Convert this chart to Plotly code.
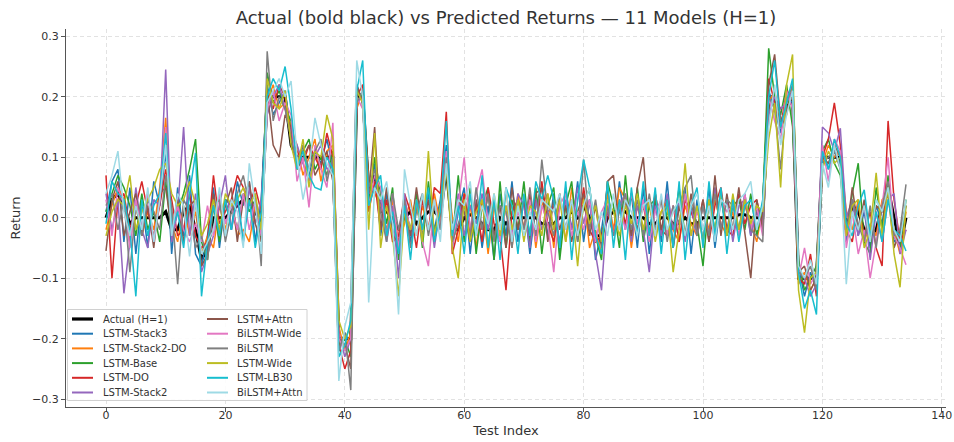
import plotly.graph_objects as go

test_index = list(range(135))

actual = [
    0, .03, .04, .02, -.01, 0, 0, 0, 0, 0, .01, -.02, -.02, .01, .02,
    -.02, -.07, -.05, 0, 0, 0, .01, .02, .03, .03, .01, -.01, .2, .2, .2,
    .2, .12, .1, .1, .1, .1, .1, .1, .1, -.2, -.2, -.2, .2, .2, .05,
    .07, .01, .01, 0, -.02, 0, .01, -.01, 0, .01, .01, 0, .08, -.02, -.02,
    0, .005, 0, -.01, -.02, -.02, 0, -.01, 0, 0, 0, 0, 0, -.01, -.01,
    -.01, 0, 0, .01, 0, .02, 0, -.03, -.03, 0, .01, .01, .01, 0, 0,
    0, -.01, -.01, 0, 0, -.01, -.01, 0, -.01, -.01, 0, 0, 0, 0, 0,
    0, .005, .005, 0, 0, 0, .2, .2, .15, .18, .2, -.1, -.1, -.1, -.1,
    .1, .1, .1, .1, -.02, .02, .01, -.02, -.03, -.02, .02, .05, 0, -.05, 0,
]

lstm_stack3 = [
    .01, .06, .08, -.04, .05, -.06, .03, -.05, .06, .02, .11, -.06, .05, -.03, .07,
    -.06, -.08, -.03, .05, -.05, .03, -.02, .06, .02, .06, -.04, .03, .22, .17, .19,
    .21, .14, .08, .12, .07, .11, .09, .13, .08, -.22, -.19, -.21, .22, .19, .03,
    .09, -.03, .04, -.02, -.06, .03, -.04, .02, -.03, .04, -.02, .03, .12, -.05, .01,
    .05, -.06, .03, -.05, .02, -.07, .04, -.03, .06, -.04, .03, -.06, .02, .05, -.03,
    .04, -.06, .05, -.02, .06, -.04, .03, -.07, -.02, .05, -.03, .06, -.02, .04, -.05,
    .05, -.06, .03, -.04, .06, -.05, .02, .05, -.06, .03, -.04, .05, -.05, .03, -.02,
    .03, -.02, .04, -.03, .02, -.01, .21, .18, .14, .2, .19, -.08, -.13, -.09, -.12,
    .12, .08, .11, .09, -.04, .03, -.03, .01, -.05, .02, -.01, .06, -.04, -.03, .02,
]

lstm_stack2_do = [
    -.02, .02, .05, .03, -.04, .02, -.03, .01, -.02, .05, .165, -.01, -.04, .02, -.03,
    .01, -.06, -.03, -.05, .02, -.02, .03, -.03, -.02, -.04, .02, -.03, .19, .22, .18,
    .19, .15, .12, .07, .1, .13, .06, .11, .12, -.18, -.22, -.19, .18, .21, .06,
    .04, .02, -.02, .03, -.04, -.01, .03, -.03, .02, -.02, .04, -.01, .1, 0, -.04,
    .04, .02, -.05, .03, -.06, .02, -.04, .05, -.05, .04, -.02, .04, -.05, .02, .04,
    -.05, .04, -.04, .05, -.02, .04, -.05, -.02, -.06, .04, -.02, .05, .03, -.05, .02,
    -.02, .02, -.03, .01, .03, -.02, -.04, .02, -.01, -.03, .02, -.02, .03, -.01, -.03,
    .01, -.03, .02, -.01, -.04, .02, .19, .21, .16, .17, .22, -.11, -.09, -.12, -.1,
    .09, .12, .1, .11, .01, -.02, .03, -.04, -.01, -.03, .03, .04, -.02, -.06, .01,
]

lstm_base = [
    .01, .04, .07, .05, .02, -.03, .04, -.02, .01, -.04, .06, -.03, .01, .04, .08,
    .13, -.04, -.07, .02, -.04, .03, .02, -.02, .04, .01, .03, -.04, .24, .19, .21,
    .18, .16, .09, .11, .13, .08, .1, .07, .11, -.21, -.2, -.23, .21, .2, .02,
    .1, .04, -.01, .05, -.07, .02, -.02, .04, -.05, .06, -.03, .02, .1, -.04, .07,
    -.04, .05, -.06, .02, .05, -.07, .06, -.05, .03, -.02, .06, -.04, .05, -.06, .02,
    .05, -.07, .02, .06, -.04, .02, .05, -.03, -.07, .06, .02, -.05, .07, -.03, .05,
    -.04, .02, .03, -.03, .01, -.02, .05, -.03, .02, -.01, -.08, .03, -.02, .04, -.03,
    .02, .03, -.02, .04, -.03, .02, .28, .2, .17, .22, .15, -.07, -.12, -.1, -.08,
    .11, .13, .09, .07, -.03, .04, .09, -.04, -.06, .05, -.02, .07, -.03, -.05, .03,
]

lstm_do = [
    .07, -.1, .03, .04, -.02, .02, .06, .01, -.03, .02, .08, .03, -.03, -.02, .04,
    -.03, -.05, -.04, .07, -.01, .01, .03, .07, .05, .02, .05, .01, .2, .18, .22,
    .2, .13, .11, .09, .12, .1, .08, .14, .1, -.21, -.25, -.22, .2, .22, .01,
    .06, -.02, .03, -.04, -.03, .04, .01, -.05, .03, -.02, .05, .04, .175, -.06, -.02,
    .04, -.03, .02, -.04, .05, -.01, -.03, -.12, .01, .03, -.02, .04, -.03, .06, -.01,
    -.04, .03, -.02, .02, -.03, .05, -.02, -.04, -.03, .01, -.03, .03, -.01, .04, -.02,
    .02, -.03, .04, -.02, -.03, .02, -.04, .03, .01, -.02, .03, -.04, .02, .05, -.02,
    -.03, .04, -.01, .02, .03, -.02, .23, .19, .15, .21, .2, -.1, -.11, -.06, -.13,
    .1, .13, .19, .12, -.02, -.04, .02, -.03, .01, -.05, -.08, .16, .03, -.04, -.02,
]

lstm_stack2 = [
    .04, -.02, .03, -.125, -.04, .05, -.02, -.05, .03, .02, .245, -.04, .01, .15, -.03,
    .04, -.09, -.06, -.03, .02, .07, -.02, .03, -.04, .05, -.01, .03, .17, .2, .22,
    .18, .14, .12, .09, .06, .1, .12, .08, .09, -.19, -.23, -.2, .19, .2, .04,
    .05, .03, -.04, .02, -.1, .04, -.03, .02, -.02, .03, -.05, .02, .1, -.03, .04,
    -.03, .02, -.01, .04, -.02, .03, -.04, .02, -.03, .04, .02, -.05, .03, -.02, .01,
    .02, -.04, .03, -.02, .05, -.01, .03, -.06, -.12, .02, -.03, .02, .04, -.04, .02,
    -.02, -.09, .02, -.03, .04, -.02, .03, -.04, .02, -.03, .02, -.03, .05, -.02, .03,
    -.04, .02, .03, -.03, .01, -.02, .17, .2, .18, .19, .21, -.09, -.1, -.13, -.11,
    .15, .14, .11, .148, 0, .03, -.03, .02, -.07, .01, -.04, .03, .04, -.06, -.02,
]

lstm_attn = [
    -.055, .03, .06, -.03, .01, .04, -.03, .02, -.05, .04, .05, -.02, .03, -.04, .02,
    .03, -.08, -.06, .04, -.03, .02, .05, -.04, .03, .06, -.01, -.04, .21, .12, .1,
    .17, .15, .08, .1, .12, .07, .09, .11, .06, -.2, -.21, -.25, .22, .19, .04,
    .15, -.02, .05, -.03, -.04, .02, -.03, .05, -.02, .03, -.04, .02, .09, -.03, .03,
    .01, -.04, .03, -.02, .04, -.03, .02, -.05, .05, -.02, .03, -.03, .04, .05, -.04,
    .03, -.02, .02, -.04, .01, .04, -.03, .02, -.05, .06, .07, -.02, .03, -.03, .05,
    .1, -.03, .04, -.02, .03, -.05, .02, -.03, .04, -.02, .03, -.04, .07, -.03, .04,
    -.02, .05, -.03, -.1, .03, -.02, .22, .27, .16, .18, .2, -.09, -.08, -.12, -.1,
    .1, .09, .12, .1, -.03, .05, -.02, .03, -.04, .02, .01, .04, -.05, -.02, .02,
]

bilstm_wide = [
    .03, -.03, .05, .02, -.05, .03, -.02, .04, -.04, .03, .15, -.03, .02, -.02, -.04,
    -.01, -.04, .02, -.03, .04, -.01, .02, -.02, .04, -.02, .03, -.03, .18, .21, .16,
    .19, .17, .06, .1, .017, .12, .08, .05, .157, -.2, -.22, -.2, .2, .18, .02,
    .07, .05, -.03, .04, -.05, .02, -.02, .03, -.04, -.08, .03, -.02, .11, -.05, .02,
    .1, -.02, .04, .08, -.01, .03, -.04, .02, -.03, .01, -.02, .03, -.04, .02, -.01,
    -.09, .02, .04, -.03, .01, -.02, .03, -.04, .01, .03, -.03, .02, -.02, .04, -.01,
    .03, -.04, .01, .03, -.03, .02, -.02, .04, -.03, .01, -.02, .02, -.03, .03, .01,
    .02, -.03, .04, -.02, .02, -.03, .2, .16, .13, .21, .18, -.1, -.05, -.11, -.09,
    .12, .06, .13, .11, -.05, .01, -.06, -.02, -.1, -.04, .02, .1, -.03, -.05, -.078,
]

bilstm = [
    .02, .04, -.02, .03, -.09, .02, -.03, .03, .01, -.02, .07, .02, -.11, .03, .01,
    -.05, -.03, -.07, .02, .03, -.04, .01, .04, .07, .02, .04, -.08, .275, .16, .2,
    .18, .13, .09, .12, .08, .11, .13, .06, .1, -.22, -.19, -.285, .19, .21, .05,
    .08, .01, -.04, .04, -.02, .03, -.05, .01, .04, -.03, .02, -.02, .1, -.04, -.01,
    .02, -.03, .05, -.02, .04, -.04, .02, .01, -.05, .03, -.02, .05, -.03, .096, .01,
    -.03, .04, -.02, .03, -.04, .096, -.02, .03, -.04, .02, -.03, .01, .04, -.02, .03,
    -.03, .04, -.02, .03, -.04, .02, -.01, .05, .07, -.03, .02, -.03, .04, -.02, .03,
    .02, -.02, .03, -.02, -.03, -.04, .2, .18, .08, .19, .22, -.09, -.1, -.08, -.12,
    .09, .1, .11, .08, -.02, .03, -.01, -.04, .02, -.05, .02, .06, -.03, -.02, .055,
]

lstm_wide = [
    -.03, .01, .03, .02, .07, -.02, .01, .03, .05, .08, .09, .04, .02, .03, .06,
    .02, -.03, -.01, .03, -.02, .04, .02, .03, .05, .02, .04, -.02, .23, .19, .18,
    .21, .12, .08, .13, .05, .11, .1, .17, .13, -.17, -.2, -.18, .21, .19, -.02,
    .14, -.05, .02, -.03, -.13, .01, -.02, .03, -.04, .11, -.03, .02, .08, -.05, -.1,
    .03, -.04, .01, .03, -.05, .04, -.03, .02, -.02, .03, -.04, .02, .01, -.03, .04,
    -.02, .03, -.04, .02, -.08, .03, -.01, .02, -.04, .03, .01, -.03, .02, -.01, .04,
    -.02, .03, -.04, .01, .02, -.09, -.02, .09, -.03, .02, -.04, .03, -.02, .04, -.03,
    .04, -.02, .03, -.01, .02, .01, .13, .19, .05, .22, .27, -.12, -.19, -.1, -.09,
    .08, .11, .09, .1, -.03, .02, .03, -.05, -.02, .074, -.03, .05, -.06, -.115, .02,
]

lstm_lb30 = [
    -.01, .06, .04, .03, -.02, -.13, .03, -.03, .02, .04, .14, -.02, .01, -.05, .04,
    .107, -.13, -.04, .02, -.03, .03, -.02, .04, -.04, .03, -.05, .01, .2, .23, .21,
    .25, .18, .08, .11, .07, .05, .046, .1, .08, -.23, -.21, -.17, .21, .26, .02,
    .05, .07, -.03, .01, -.06, .02, -.07, .03, -.02, .05, -.04, .01, .16, -.03, .02,
    -.06, .04, -.03, .07, -.05, .03, -.07, .05, .02, -.06, .04, -.03, .06, .03, .07,
    .03, -.05, .06, -.07, .03, .096, .05, -.03, -.06, .06, -.05, .03, -.07, .05, -.03,
    .06, -.03, .05, -.06, .03, -.05, .06, -.07, .02, .05, -.05, .06, -.03, .05, -.06,
    .03, -.04, .02, .03, -.02, .03, .2, .26, .15, .19, .23, -.09, -.15, -.12, -.16,
    .11, .08, .13, .1, -.01, -.03, .02, .046, -.03, .01, -.04, .03, -.02, -.03, -.055,
]

bilstm_attn = [
    .04, .07, .11, .01, -.03, .02, -.02, .05, -.04, .03, .12, -.03, .04, .02, -.064,
    .03, -.06, -.04, -.02, .05, -.03, .03, .01, -.05, .09, .02, -.06, .19, .21, .23,
    .2, .226, .1, .03, .08, .165, .12, .09, .07, -.27, -.18, -.14, .26, .2, -.14,
    .05, .03, .06, -.01, -.16, .08, .02, -.03, .04, -.02, .03, -.04, .09, -.02, .03,
    .02, .06, -.03, .02, -.01, .04, -.02, .05, -.04, .02, -.03, .01, -.02, .03, .02,
    .01, .04, -.02, .03, -.03, .02, .05, -.02, .01, -.03, .04, -.02, .03, .01, -.03,
    .02, .03, -.03, .04, -.02, .01, .03, -.03, .02, .04, -.02, .02, -.04, .03, .02,
    -.02, .03, .04, .06, -.02, .02, .15, .22, .12, .17, .21, -.08, -.1, -.07, -.11,
    .09, .05, .12, .08, -.11, .01, -.02, .02, -.04, .03, .01, .05, -.02, -.04, .03,
]

actual_name = "Actual (H=1)"
model_names = ["LSTM-Stack3", "LSTM-Stack2-DO", "LSTM-Base", "LSTM-DO", "LSTM-Stack2",
               "LSTM+Attn", "BiLSTM-Wide", "BiLSTM", "LSTM-Wide", "LSTM-LB30", "BiLSTM+Attn"]
model_values = [lstm_stack3, lstm_stack2_do, lstm_base, lstm_do, lstm_stack2,
                lstm_attn, bilstm_wide, bilstm, lstm_wide, lstm_lb30, bilstm_attn]
model_colors = ["#1f77b4", "#ff7f0e", "#2ca02c", "#d62728", "#9467bd",
                "#8c564b", "#e377c2", "#7f7f7f", "#bcbd22", "#17becf", "#9edae5"]

y_ticks = [-0.3, -0.2, -0.1, 0.0, 0.1, 0.2, 0.3]
y_ticktext = ["\u22120.3", "\u22120.2", "\u22120.1", "0.0", "0.1", "0.2", "0.3"]
x_ticks = [0, 20, 40, 60, 80, 100, 120, 140]

FONT = "DejaVu Sans"
TXT = "#333333"

fig = go.Figure()
fig.add_trace(go.Scatter(x=test_index, y=actual, mode="lines", name=actual_name,
                         line=dict(color="black", width=3), showlegend=False))
for nm, vals, col in zip(model_names, model_values, model_colors):
    fig.add_trace(go.Scatter(x=test_index, y=vals, mode="lines", name=nm,
                             line=dict(color=col, width=1.5), showlegend=False))

# ---- legend (two columns, matplotlib style), drawn in paper coordinates ----
W_PLOT, H_PLOT, L, B = 880.0, 378.0, 66.0, 35.0
def px_x(p):
    return (p - L) / W_PLOT
def px_y(p):
    return (442 - B - p) / H_PLOT

shapes = [dict(type="rect", xref="paper", yref="paper",
               x0=px_x(67.5), x1=px_x(307), y0=px_y(400.5), y1=px_y(309.5),
               fillcolor="rgba(255,255,255,0.9)", line=dict(color="#d0d0d0", width=1),
               layer="above")]
annotations = []
entries = [(actual_name, "black", 3.2)] + [(n, c, 2) for n, c in zip(model_names, model_colors)]
row_top, row_step = 319.0, 14.7
col_line_x = [(72, 93), (207, 228)]
col_text_x = [101, 235]
for k, (nm, col, w) in enumerate(entries):
    c = 0 if k < 6 else 1
    r = k if k < 6 else k - 6
    yy = px_y(row_top + r * row_step)
    shapes.append(dict(type="line", xref="paper", yref="paper",
                       x0=px_x(col_line_x[c][0]), x1=px_x(col_line_x[c][1]),
                       y0=yy, y1=yy, line=dict(color=col, width=w), layer="above"))
    annotations.append(dict(text=nm, xref="paper", yref="paper", x=px_x(col_text_x[c]),
                            y=yy, xanchor="left", yanchor="middle", showarrow=False,
                            font=dict(size=10, color=TXT, family=FONT)))

axis_common = dict(showline=True, linecolor="#555", linewidth=1, ticks="outside",
                   ticklen=4, tickcolor="#555", showgrid=True, gridcolor="#e2e2e2",
                   griddash="4px,3px", gridwidth=1, zeroline=False, mirror=False,
                   automargin=False,
                   tickfont=dict(size=11, color=TXT, family=FONT))

fig.update_layout(
    width=954, height=442,
    margin=dict(l=66, r=8, t=29, b=35, autoexpand=False),
    plot_bgcolor="white", paper_bgcolor="white",
    font=dict(family=FONT, color=TXT),
    showlegend=False,
    title=dict(text="Actual (bold black) vs Predicted Returns \u2014 11 Models (H=1)",
               x=0.5, xref="paper", xanchor="center", y=1 - 18 / 442, yref="container",
               yanchor="middle", font=dict(size=18, color=TXT, family=FONT)),
    xaxis=dict(range=[-6.7, 140.7], tickvals=x_ticks, ticklabelstandoff=-6,
               title=dict(text="Test Index", font=dict(size=13, color=TXT), standoff=4),
               **axis_common),
    yaxis=dict(range=[-0.313, 0.312], tickvals=y_ticks, ticktext=y_ticktext,
               title=dict(text="Return", font=dict(size=13, color=TXT), standoff=8),
               **axis_common),
    shapes=shapes,
    annotations=annotations,
)

fig.write_html("out.html")
